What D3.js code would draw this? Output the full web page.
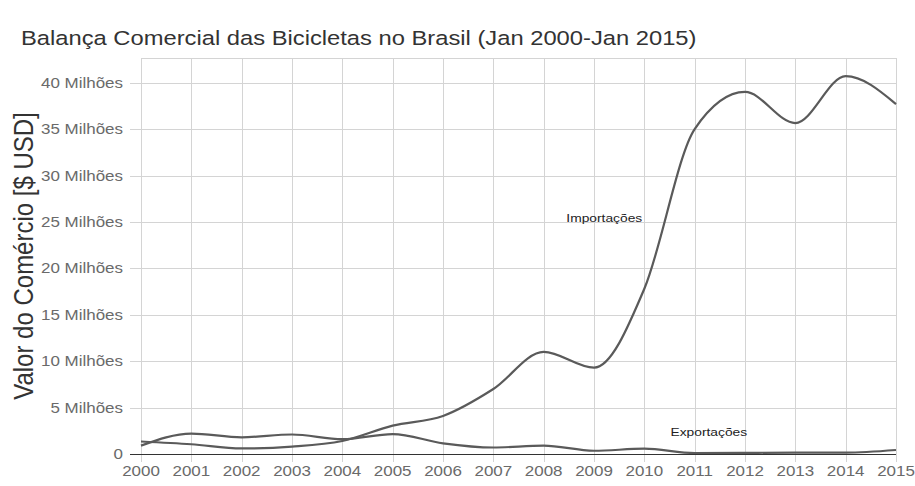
<!DOCTYPE html>
<html>
<head>
<meta charset="utf-8">
<script src="https://cdn.jsdelivr.net/npm/d3@7"></script>
<style>
  html, body { margin: 0; padding: 0; background: #fff; }
  text { font-family: "Liberation Sans", Arial, sans-serif; }
</style>
</head>
<body>
<svg id="chart" width="915" height="486"></svg>
<script>
// ---- data ----
const years = [2000, 2001, 2002, 2003, 2004, 2005, 2006, 2007, 2008, 2009, 2010, 2011, 2012, 2013, 2014, 2015];
const importacoes = [1.35, 1.05, 0.6, 0.8, 1.4, 3.05, 4.1, 7.0, 11.0, 9.3, 17.8, 35.0, 39.0, 35.65, 40.7, 37.7];
const exportacoes = [0.9, 2.2, 1.8, 2.1, 1.6, 2.15, 1.15, 0.7, 0.9, 0.35, 0.57, 0.1, 0.12, 0.15, 0.15, 0.43];
const yTicks = [0, 5, 10, 15, 20, 25, 30, 35, 40];
const yTickLabels = ["0", "5 Milhões", "10 Milhões", "15 Milhões", "20 Milhões", "25 Milhões", "30 Milhões", "35 Milhões", "40 Milhões"];
const seriesNames = ["Importações", "Exportações"];
const chartTitle = "Balança Comercial das Bicicletas no Brasil (Jan 2000-Jan 2015)";
const yTitle = "Valor do Comércio [$ USD]";

(function () {
// ---- layout ----
const SX = 1.17; // horizontal stretch of the text in the reference
const svg = d3.select("#chart");
const pL = 141, pR = 896, pT = 58, pB = 454;
const yMax = 42.66;
const x = d3.scaleLinear().domain([2000, 2015]).range([pL, pR]);
const y = d3.scaleLinear().domain([0, yMax]).range([pB, pT]);

// grid
const g = svg.append("g");
g.selectAll("line.vg").data(years).join("line")
  .attr("x1", d => Math.round(x(d)) + 0.5).attr("x2", d => Math.round(x(d)) + 0.5)
  .attr("y1", pT).attr("y2", pB + 8)
  .attr("stroke", "#d4d4d4").attr("stroke-width", 1);
g.selectAll("line.hg").data(yTicks.filter(d => d > 0).concat([yMax])).join("line")
  .attr("x1", d => d === yMax ? pL : pL - 11).attr("x2", pR)
  .attr("y1", d => Math.round(y(d)) + 0.5).attr("y2", d => Math.round(y(d)) + 0.5)
  .attr("stroke", "#d4d4d4").attr("stroke-width", 1);

// y labels
g.selectAll("text.yl").data(yTicks).join("text")
  .attr("transform", d => `translate(123,${y(d) + 5}) scale(${SX},1)`)
  .attr("text-anchor", "end")
  .attr("font-size", 14.5)
  .attr("fill", "#6a6a6a")
  .text((d, i) => yTickLabels[i]);

// x labels
g.selectAll("text.xl").data(years).join("text")
  .attr("transform", d => `translate(${x(d)},476) scale(${SX},1)`)
  .attr("text-anchor", "middle")
  .attr("font-size", 14.5)
  .attr("fill", "#6a6a6a")
  .text(d => d3.format("d")(d));

// lines
const line = d3.line().x((d, i) => x(years[i])).y(d => y(d)).curve(d3.curveMonotoneX);
[importacoes, exportacoes].forEach(s => {
  svg.append("path").datum(s)
    .attr("d", line)
    .attr("fill", "none")
    .attr("stroke", "#5a5a5a")
    .attr("stroke-width", 2.2);
});

// baseline
svg.append("line")
  .attr("x1", pL - 11).attr("x2", pR)
  .attr("y1", Math.round(y(0)) + 0.5).attr("y2", Math.round(y(0)) + 0.5)
  .attr("stroke", "#333").attr("stroke-width", 1);

// series annotations
svg.append("text")
  .attr("transform", `translate(${x(2008.45)},222) scale(${SX},1)`)
  .attr("font-size", 11.8).attr("fill", "#222")
  .text(seriesNames[0]);
svg.append("text")
  .attr("transform", `translate(${x(2010.52)},436) scale(${SX},1)`)
  .attr("font-size", 11.8).attr("fill", "#222")
  .text(seriesNames[1]);

// title
svg.append("text")
  .attr("transform", `translate(21,45) scale(${SX},1)`)
  .attr("font-size", 20.3).attr("fill", "#333")
  .text(chartTitle);

// y title
svg.append("text")
  .attr("transform", `translate(33,256) scale(${SX},1) rotate(-90)`)
  .attr("text-anchor", "middle")
  .attr("font-size", 24).attr("fill", "#333")
  .text(yTitle);
})();
</script>
</body>
</html>
